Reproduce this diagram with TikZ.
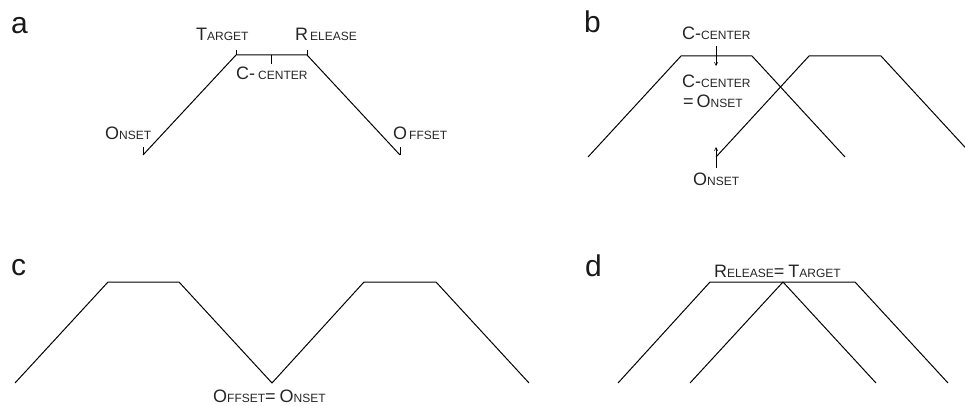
\documentclass[tikz,border=0pt]{standalone}
\usepackage{fontspec}
\setmainfont{Liberation Sans}
\usetikzlibrary{arrows.meta}
\newcommand\lbl[2]{{\fontsize{18}{20}\selectfont #1}{\fontsize{12}{14}\selectfont #2}}
\begin{document}
\begin{tikzpicture}[x=1pt,y=-1pt,
  curve/.style={line width=1pt,line join=miter},
  tickline/.style={line width=0.7pt},
  arr/.style={line width=0.6pt,-{Straight Barb[length=3pt,width=3pt]}},
  lab/.style={anchor=base west,inner sep=0pt,text=black!85},
  panel/.style={anchor=base west,inner sep=0pt,text=black!90,font=\fontsize{30}{30}\selectfont}]
\useasboundingbox (0,0) rectangle (965,406);
\clip (0,0) rectangle (965,406);
% ---------- panel a
\node[panel] (pa) at (11,34) {a};
\coordinate (aOn) at (143,155);
\coordinate (aTa) at (236,55);
\coordinate (aRe) at (307,55);
\coordinate (aOf) at (400,155);
\coordinate (aCc) at (271.5,55);
\coordinate (aOnT) at (143,147);
\coordinate (aOfT) at (400,147);
\coordinate (aTaT) at (236,50);
\coordinate (aReT) at (307,50);
\coordinate (aCcT) at (271.5,64);
\draw[curve] (aOn) -- (aTa) -- (aRe) -- (aOf);
\draw[tickline] (aOn) -- (aOnT);
\draw[tickline] (aOf) -- (aOfT);
\draw[tickline] (aTa) -- (aTaT);
\draw[tickline] (aRe) -- (aReT);
\draw[tickline] (aCc) -- (aCcT);
\node[lab] (aLTa) at (196,41) {\lbl{T}{ARGET}};
\node[lab] (aLRe) at (295,41) {\lbl{R}{\kern2pt ELEASE}};
\node[lab] (aLCc) at (236,80) {\lbl{C-}{\kern3pt CENTER}};
\node[lab] (aLOn) at (105,140) {\lbl{O}{NSET}};
\node[lab] (aLOf) at (393,140) {\lbl{O}{\kern2pt FFSET}};
% ---------- panel b
\node[panel] (pb) at (584,33) {b};
\coordinate (b1a) at (588,157);
\coordinate (b1b) at (681,56);
\coordinate (b1c) at (752,56);
\coordinate (b1d) at (845,157);
\coordinate (b2a) at (716,157);
\coordinate (b2b) at (809,56);
\coordinate (b2c) at (881,56);
\coordinate (b2d) at (974,157);
\draw[curve] (b1a) -- (b1b) -- (b1c) -- (b1d);
\draw[curve] (b2a) -- (b2b) -- (b2c) -- (b2d);
\node[lab] (bLCc) at (682,40) {\lbl{C-}{CENTER}};
\node[lab] (bLCc2) at (682,88) {\lbl{C-}{CENTER}};
\node[lab] (bLEq) at (683,108) {\lbl{=}{}\kern3pt\lbl{O}{NSET}};
\node[lab] (bLOn) at (693,185) {\lbl{O}{NSET}};
\coordinate (bA1s) at (716,46);
\coordinate (bA1e) at (716,66);
\coordinate (bA2s) at (716,168);
\coordinate (bA2e) at (716,147);
\draw[arr] (bA1s) -- (bA1e);
\draw[arr] (bA2s) -- (bA2e);
% ---------- panel c
\node[panel] (pc) at (11,275) {c};
\coordinate (c1) at (15,383);
\coordinate (c2) at (108,282);
\coordinate (c3) at (179,282);
\coordinate (c4) at (272,383);
\coordinate (c5) at (364,282);
\coordinate (c6) at (436,282);
\coordinate (c7) at (529,383);
\draw[curve] (c1) -- (c2) -- (c3) -- (c4) -- (c5) -- (c6) -- (c7);
\node[lab] (cL) at (213,402) {\lbl{O}{FFSET}\lbl{=}{}\kern4pt\lbl{O}{NSET}};
% ---------- panel d
\node[panel] (pd) at (585,276) {d};
\coordinate (d1a) at (618,383);
\coordinate (d1b) at (710,282);
\coordinate (d1c) at (783,282);
\coordinate (d1d) at (876,383);
\coordinate (d2a) at (690,383);
\coordinate (d2b) at (783,282);
\coordinate (d2c) at (855,282);
\coordinate (d2d) at (948,383);
\draw[curve] (d1a) -- (d1b) -- (d1c) -- (d1d);
\draw[curve] (d2a) -- (d2b) -- (d2c) -- (d2d);
\node[lab] (dL) at (714,277) {\lbl{R}{ELEASE}\lbl{=}{}\kern4pt\lbl{T}{ARGET}};
\end{tikzpicture}
\end{document}
